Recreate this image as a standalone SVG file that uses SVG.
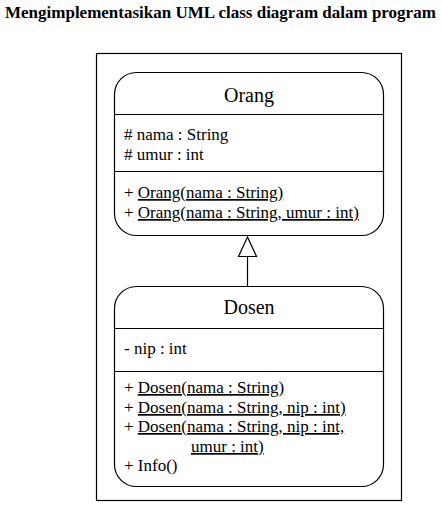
<svg xmlns="http://www.w3.org/2000/svg" width="441" height="506" viewBox="0 0 441 506">
<style>
text{font-family:"Liberation Serif","Times New Roman",serif;fill:#000}
.t{font-size:17px;font-weight:bold}
.n{font-size:20px;text-anchor:middle}
.m{font-size:17px}
.u{text-decoration:underline}
.box{fill:#fff;stroke:#000;stroke-width:1.2}
.ln{stroke:#000;stroke-width:1.2;fill:none}
</style>
<rect width="441" height="506" fill="#fff"/>
<text class="t" x="5" y="18">Mengimplementasikan UML class diagram dalam program</text>
<rect x="96.5" y="53.5" width="305" height="447" fill="none" stroke="#000" stroke-width="1.2"/>
<g id="Orang">
<rect class="box" x="114.5" y="72.5" width="269" height="163" rx="22" ry="22"/>
<line class="ln" x1="114.5" y1="114.5" x2="383.5" y2="114.5"/>
<line class="ln" x1="114.5" y1="171.5" x2="383.5" y2="171.5"/>
<text class="n" x="249" y="102">Orang</text>
<text class="m" x="124" y="140"># nama : String</text>
<text class="m" x="124" y="160"># umur : int</text>
<text class="m" x="124" y="198">+ <tspan class="u">Orang(nama : String)</tspan></text>
<text class="m" x="124" y="218">+ <tspan class="u">Orang(nama : String, umur : int)</tspan></text>
</g>
<g id="Dosen">
<rect class="box" x="114.5" y="286.5" width="269" height="200" rx="22" ry="22"/>
<line class="ln" x1="114.5" y1="328.5" x2="383.5" y2="328.5"/>
<line class="ln" x1="114.5" y1="371.5" x2="383.5" y2="371.5"/>
<text class="n" x="249" y="314">Dosen</text>
<text class="m" x="124" y="354">- nip : int</text>
<text class="m" x="124" y="393">+ <tspan class="u">Dosen(nama : String)</tspan></text>
<text class="m" x="124" y="413">+ <tspan class="u">Dosen(nama : String, nip : int)</tspan></text>
<text class="m" x="124" y="432">+ <tspan class="u">Dosen(nama : String, nip : int,</tspan></text>
<text class="m" x="191" y="452"><tspan class="u">umur : int)</tspan></text>
<text class="m" x="124" y="471">+ Info()</text>
</g>
<g id="connectors">
<line class="ln" x1="247.5" y1="256" x2="247.5" y2="286"/>
<polygon points="247.5,237 238.5,256.5 256.5,256.5" fill="#fff" stroke="#000" stroke-width="1.2"/>
</g>
</svg>
